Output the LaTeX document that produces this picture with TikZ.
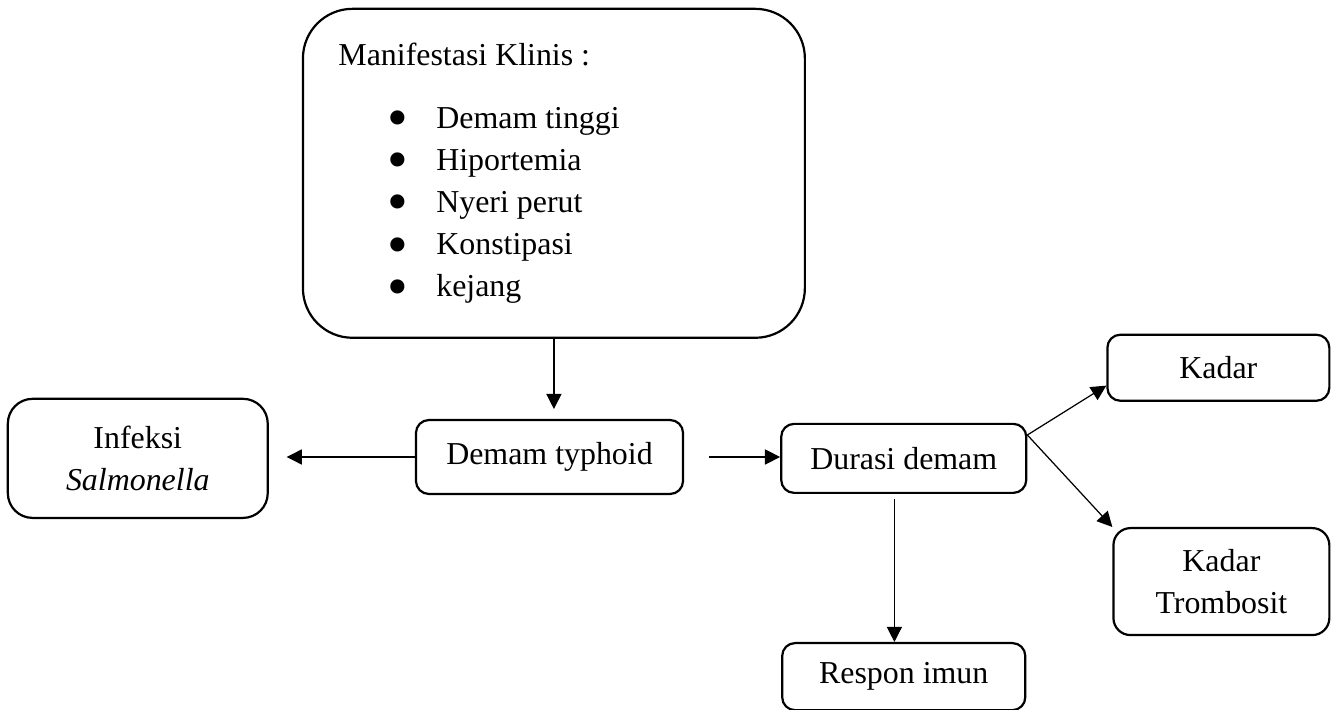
\documentclass[tikz,border=0pt]{standalone}
\usepackage{fontspec}
\setmainfont{Liberation Serif}
\usetikzlibrary{arrows.meta,positioning}
\tikzset{
	%Define standard arrow tip
	>={Triangle[length=5.5pt,width=5.5pt]},
	%Define style for boxes
	kotak/.style={
		rectangle,
		rounded corners=4.7pt,
		draw=black, line width=0.8pt,
		align=center,
		inner sep=2pt},
	% Define arrow style
	panah/.style={
		->,
		line width=0.45pt}
}
% bullet of the list
\newcommand{\butir}{\makebox[17.8pt][l]{\smash{\raisebox{-3.4pt}{\fontsize{21.5}{21.5}\selectfont\textbullet}}}}

\begin{document}
\begin{tikzpicture}[x=0.3636pt,y=-0.3636pt,
	every node/.style={font=\fontsize{11.6}{15.3}\selectfont}]

	\useasboundingbox (0,0) rectangle (1333,710);

	\node[kotak, minimum width=97.1pt, minimum height=26.9pt] (typhoid) at (549.5,457) {Demam typhoid};

	\node[kotak, rounded corners=18pt, minimum width=182.5pt, minimum height=119.6pt, above = 29.1pt of typhoid, xshift=1.6pt] (manif) {};
	\node[anchor=base west, inner sep=0pt] (manif-judul) at ([xshift=13.1pt,yshift=-21.1pt] manif.north west) {Manifestasi Klinis :};
	% base anchor sits on the last line
	\node[anchor=base west, inner sep=0pt, align=left] (manif-isi) at ([xshift=30.9pt,yshift=-105.1pt] manif.north west)
		{\butir Demam tinggi \\ \butir Hiportemia \\ \butir Nyeri perut \\ \butir Konstipasi \\ \butir kejang};

	\node[kotak, rounded corners=9pt, minimum width=94.5pt, minimum height=43.3pt, left = 53.1pt of typhoid, yshift=-0.5pt] (infeksi) {Infeksi\\ \textit{Salmonella}};

	\node[kotak, minimum width=89.1pt, minimum height=25.1pt, right = 34.9pt of typhoid, yshift=-0.5pt] (durasi) {Durasi demam};
	\node[kotak, minimum width=88.4pt, minimum height=24.4pt, below = 53.8pt of durasi] (respon) {Respon imun};

	\node[kotak, minimum width=80.7pt, minimum height=24pt, above right = 7.6pt and 28.7pt of durasi] (kadar) {Kadar};
	\node[kotak, rounded corners=6.2pt, minimum width=78.5pt, minimum height=38.9pt, below right = 12pt and 30.9pt of durasi] (trombosit) {Kadar\\ Trombosit};

	\draw[panah, shorten >=3.6pt] (manif.south) -- (manif.south |- typhoid.north);
	\draw[panah, shorten >=6.5pt] (typhoid.west) -- (typhoid.west -| infeksi.east);
	\draw[panah, shorten <=9.1pt] (typhoid.east) -- (typhoid.east -| durasi.west);
	\draw[panah, shorten <=1.8pt] ([xshift=-3.4pt] durasi.south) -- ([xshift=-3.4pt] durasi.south |- respon.north);
	\draw[panah] ([yshift=8.5pt] durasi.east) -- ([yshift=-6.5pt] kadar.west);
	\draw[panah] ([yshift=8.5pt] durasi.east) -- (trombosit.north west);

\end{tikzpicture}
\end{document}
